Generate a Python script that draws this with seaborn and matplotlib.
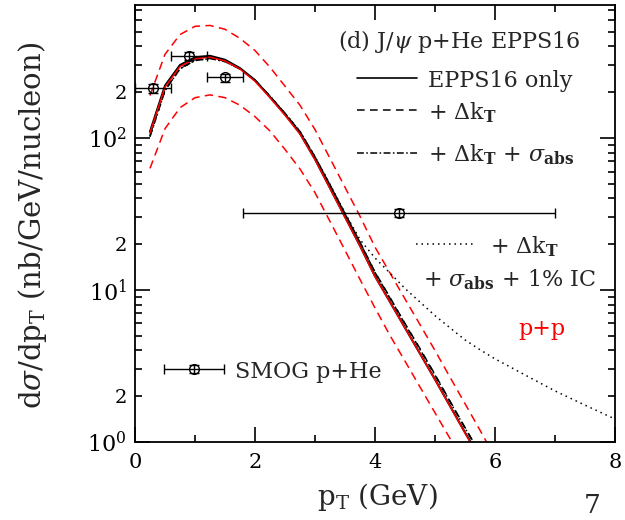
import numpy as np
import pandas as pd
import matplotlib
matplotlib.use("Agg")
import matplotlib.pyplot as plt
import seaborn as sns
from matplotlib.ticker import FixedLocator, FixedFormatter

# ---- model curves: J/psi pT spectra (nb/GeV/nucleon) ----
pt = [0.25, 0.5, 0.75, 1.0, 1.25, 1.5, 1.75, 2.0, 2.25, 2.5, 2.75, 3.0,
      3.25, 3.5, 3.75, 4.0, 4.25, 4.5, 4.75, 5.0, 5.25, 5.5, 5.75, 6.0]

epps16_only = [110, 221, 302, 339, 347, 327, 288, 240, 186, 143, 107, 72.4,
               46.8, 30.2, 19.5, 12.3, 8.32, 5.62, 3.80, 2.57, 1.72, 1.15, 0.78, 0.52]
epps16_kt = [104, 208, 288, 326, 336, 320, 285, 240, 188, 145, 110, 75,
             49, 31.8, 20.6, 13.1, 8.9, 6.0, 4.1, 2.77, 1.85, 1.24, 0.84, 0.56]
epps16_kt_abs = [102, 205, 285, 323, 333, 318, 284, 239, 188, 145, 110, 75,
                 49, 31.6, 20.5, 13.0, 8.8, 5.95, 4.05, 2.74, 1.83, 1.23, 0.83, 0.56]

pt_ic = [0.25, 0.5, 0.75, 1.0, 1.25, 1.5, 1.75, 2.0, 2.25, 2.5, 2.75, 3.0,
         3.25, 3.5, 3.75, 4.0, 4.25, 4.5, 4.75, 5.0, 5.25, 5.5, 5.75, 6.0,
         6.25, 6.5, 7.0, 7.5, 8.0]
epps16_kt_abs_ic = [102, 205, 285, 323, 333, 318, 284, 239, 188, 145, 110, 75,
                    49.5, 32, 21.4, 16.2, 12.9, 10.2, 8.3, 6.76, 5.62, 4.68, 4.03, 3.51,
                    3.11, 2.75, 2.16, 1.74, 1.41]

pp_central = [108, 216, 295, 332, 340, 321, 284, 236, 184, 141, 106, 72,
              46.5, 30, 19.4, 12.2, 8.3, 5.6, 3.8, 2.56, 1.71, 1.14, 0.77, 0.52]
pp_upper = [190, 355, 479, 543, 550, 519, 452, 376, 292, 219, 164, 113.5,
            73.3, 47.3, 30.5, 19.1, 12.9, 8.7, 5.9, 3.98, 2.66, 1.78, 1.19, 0.79]
pp_lower = [63, 115, 158, 184, 192, 184, 164, 138, 111, 84, 62.4, 43.6,
            28.2, 18.2, 11.7, 7.6, 5.0, 3.39, 2.29, 1.55, 1.05, 0.71, 0.48, 0.32]

# ---- SMOG p+He data ----
smog_pt = [0.3, 0.9, 1.5, 4.4]
smog_pt_err = [0.3, 0.3, 0.3, 2.6]
smog_val = [212, 347, 250, 32]
smog_err = [13, 21, 15, 2.0]

# ---- axis ticks ----
x_major = [0, 2, 4, 6, 8]
x_minor = [1, 3, 5, 7]
y_major = [1, 10, 100]
y_major_labels = [r"$10^{0}$", r"$10^{1}$", r"$10^{2}$"]

sns.set_theme(style="ticks")
plt.rcParams["font.family"] = ["DejaVu Serif"]
plt.rcParams["mathtext.fontset"] = "dejavuserif"

fig = plt.figure(figsize=(6.25, 5.2), dpi=100)
ax = fig.add_axes([0.216, 0.1506, 0.768, 0.8398])

BLACK = "black"
RED = "#ff0000"
LW = 1.1

curves = pd.DataFrame({"pt": pt, "epps": epps16_only, "kt": epps16_kt,
                       "ktabs": epps16_kt_abs, "pp": pp_central,
                       "ppup": pp_upper, "pplo": pp_lower})
ic = pd.DataFrame({"pt": pt_ic, "val": epps16_kt_abs_ic})

DASH = (0, (5, 3.5))
DASHDOT = (0, (4.5, 1.6, 1, 1.6))
DOT = (0, (1, 2.6))
RDASH = (0, (5.5, 3.5))

sns.lineplot(data=curves, x="pt", y="pplo", ax=ax, color=RED, lw=LW, linestyle=RDASH)
sns.lineplot(data=curves, x="pt", y="ppup", ax=ax, color=RED, lw=LW, linestyle=RDASH)
sns.lineplot(data=ic, x="pt", y="val", ax=ax, color=BLACK, lw=LW, linestyle=DOT)
sns.lineplot(data=curves, x="pt", y="ktabs", ax=ax, color=BLACK, lw=LW, linestyle=DASHDOT)
sns.lineplot(data=curves, x="pt", y="kt", ax=ax, color=BLACK, lw=LW, linestyle=DASH)
sns.lineplot(data=curves, x="pt", y="epps", ax=ax, color=BLACK, lw=1.5)
sns.lineplot(data=curves, x="pt", y="pp", ax=ax, color=RED, lw=1.1)

EB = dict(fmt="o", mfc="none", mec=BLACK, ms=7, mew=1.0, ecolor=BLACK,
          elinewidth=1.0, capsize=3.4, capthick=1.0)
ax.errorbar(smog_pt, smog_val, xerr=smog_pt_err, yerr=smog_err, zorder=5, **EB)

ax.set_yscale("log")
ax.set_xlim(0, 8)
ax.set_ylim(1, 750)

ax.xaxis.set_major_locator(FixedLocator(x_major))
ax.xaxis.set_minor_locator(FixedLocator(x_minor))
ax.set_xticklabels([str(v) for v in x_major])

ax.yaxis.set_major_locator(FixedLocator(y_major))
ax.yaxis.set_major_formatter(FixedFormatter(y_major_labels))
minor_pos = [m * 10 ** e for e in range(0, 3) for m in range(2, 10)]
minor_pos = [v for v in minor_pos if v < 750]
ax.yaxis.set_minor_locator(FixedLocator(minor_pos))
ax.yaxis.set_minor_formatter(FixedFormatter(["2" if str(int(v))[0] == "2" else "" for v in minor_pos]))

for side in ax.spines.values():
    side.set_linewidth(1.3)
    side.set_color(BLACK)

ax.tick_params(which="both", direction="in", top=True, right=True,
               color=BLACK, width=1.2, labelcolor=BLACK)
ax.tick_params(which="major", length=11)
ax.tick_params(which="minor", length=5)
ax.tick_params(axis="x", which="both", pad=8, labelsize=15)
ax.tick_params(axis="y", which="major", pad=6, labelsize=16)
ax.tick_params(axis="y", which="minor", pad=6, labelsize=14)
ax.set_xlabel("")
ax.set_ylabel("")

fig.text(377 / 625, 1 - 497 / 520, r"p$_{\rm T}$ (GeV)", ha="center", va="center", fontsize=20)
fig.text(33 / 625, 1 - 225 / 520, r"d$\sigma$/dp$_{\rm T}$ (nb/GeV/nucleon)",
         rotation=90, ha="center", va="center", fontsize=21)

# ---- key ----
T = ax.transAxes
FS = 16
ax.text(0.423, 0.901, r"(d) J/$\psi$ p+He EPPS16", transform=T, fontsize=FS, va="baseline")
ax.plot([0.4625, 0.5875], [0.833, 0.833], transform=T, color=BLACK, lw=1.2)
ax.text(0.610, 0.813, "EPPS16 only", transform=T, fontsize=FS, va="baseline")
ax.plot([0.4625, 0.5875], [0.759, 0.759], transform=T, color=BLACK, lw=LW, linestyle=DASH)
ax.text(0.610, 0.737, r"+ $\Delta$k$_{\mathbf{T}}$", transform=T, fontsize=FS, va="baseline")
ax.plot([0.4625, 0.5875], [0.661, 0.661], transform=T, color=BLACK, lw=LW, linestyle=DASHDOT)
ax.text(0.610, 0.641, r"+ $\Delta$k$_{\mathbf{T}}$ + $\sigma_{\mathbf{abs}}$",
        transform=T, fontsize=FS, va="baseline")
ax.plot([0.585, 0.708], [0.452, 0.452], transform=T, color=BLACK, lw=LW, linestyle=DOT)
ax.text(0.740, 0.432, r"+ $\Delta$k$_{\mathbf{T}}$", transform=T, fontsize=FS, va="baseline")
ax.text(0.600, 0.355, r"+ $\sigma_{\mathbf{abs}}$ + 1% IC", transform=T, fontsize=FS, va="baseline")
ax.text(0.798, 0.244, "p+p", transform=T, fontsize=FS, va="baseline", color=RED)

ax.errorbar([0.1235], [0.166], xerr=[0.0625], yerr=[0.009], transform=T, **EB)
ax.text(0.208, 0.146, "SMOG p+He", transform=T, fontsize=FS, va="baseline")

fig.text(592 / 625, 2 / 520, "7", ha="center", va="bottom", fontsize=19)

fig.savefig("out.png", dpi=100)
